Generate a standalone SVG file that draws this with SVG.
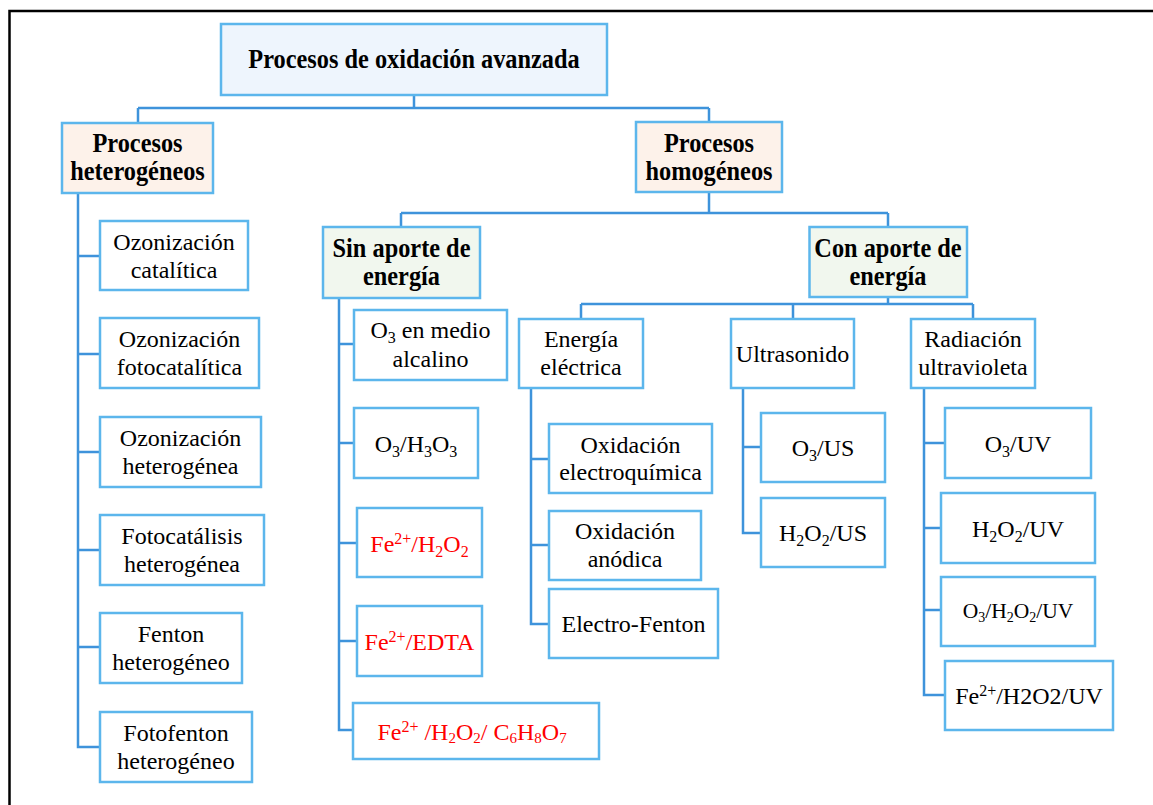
<svg xmlns="http://www.w3.org/2000/svg" width="1153" height="805" viewBox="0 0 1153 805">
<style>
.box{stroke:#5CB6EC;stroke-width:2.5;fill:#fff}
.t{fill:#EEF5FD}
.p{fill:#FDF2EA}
.g{fill:#F1F7EE}
.c{fill:none;stroke:#3E93DB;stroke-width:2.5}
text{font-family:"Liberation Serif","Times New Roman",serif;fill:#000}
.r{font-size:24px}
.b{font-size:27.5px;font-weight:bold}
.red{fill:#F00}
.s{font-size:21.5px}
</style>
<rect width="1153" height="805" fill="#fff"/>
<rect x="9.5" y="11" width="1170" height="830" fill="none" stroke="#000" stroke-width="2.5"/>
<g id="connectors">
<path class="c" d="M414,95V108M138,108H709M138,108V123M709,108V122"/>
<path class="c" d="M709,192V213M401,213H888M401,213V227M888,213V227"/>
<path class="c" d="M888,297V304M581,304H973M581,304V319M793,304V319M973,304V319"/>
<path class="c" d="M78,193V747H100M78,256H100M78,354H100M78,452H100M78,550H100M78,647H100"/>
<path class="c" d="M339,298V730H353M339,344H354M339,443H354M339,543H357M339,641H357"/>
<path class="c" d="M531,388V624H549M531,459H549M531,545H549"/>
<path class="c" d="M743,388V533H761M743,447H761"/>
<path class="c" d="M924,388V695H945M924,443H945M924,528H941M924,610H941"/>
</g>
<g id="root"><rect class="box t" x="221" y="24" width="386" height="71"/><text class="b" text-anchor="middle" transform="translate(414,68) scale(0.885,1)">Procesos de oxidación avanzada</text></g>
<g id="hetero"><rect class="box p" x="62" y="123" width="151" height="70"/><text class="b" text-anchor="middle" transform="translate(137.5,152) scale(0.885,1)">Procesos</text><text class="b" text-anchor="middle" transform="translate(137.5,180) scale(0.885,1)">heterogéneos</text></g>
<g id="homo"><rect class="box p" x="636" y="122" width="146" height="70"/><text class="b" text-anchor="middle" transform="translate(709,152) scale(0.885,1)">Procesos</text><text class="b" text-anchor="middle" transform="translate(709,180) scale(0.885,1)">homogéneos</text></g>
<g id="sin"><rect class="box g" x="323" y="227" width="157" height="71"/><text class="b" text-anchor="middle" transform="translate(401.5,257) scale(0.885,1)">Sin aporte de</text><text class="b" text-anchor="middle" transform="translate(401.5,285) scale(0.885,1)">energía</text></g>
<g id="con"><rect class="box g" x="809.5" y="227" width="157.5" height="70"/><text class="b" text-anchor="middle" transform="translate(888,257) scale(0.885,1)">Con aporte de</text><text class="b" text-anchor="middle" transform="translate(888,285) scale(0.885,1)">energía</text></g>

<g id="oz-cat"><rect class="box" x="100" y="221" width="148" height="69"/><text class="r" text-anchor="middle" x="174" y="250">Ozonización</text><text class="r" text-anchor="middle" x="174" y="278">catalítica</text></g>
<g id="oz-foto"><rect class="box" x="100" y="318" width="159" height="70"/><text class="r" text-anchor="middle" x="179.5" y="347">Ozonización</text><text class="r" text-anchor="middle" x="179.5" y="375">fotocatalítica</text></g>
<g id="oz-het"><rect class="box" x="100" y="417" width="161" height="70"/><text class="r" text-anchor="middle" x="180.5" y="446">Ozonización</text><text class="r" text-anchor="middle" x="180.5" y="474">heterogénea</text></g>
<g id="fotocat"><rect class="box" x="100" y="515" width="164" height="70"/><text class="r" text-anchor="middle" x="182" y="544">Fotocatálisis</text><text class="r" text-anchor="middle" x="182" y="572">heterogénea</text></g>
<g id="fenton"><rect class="box" x="100" y="613" width="142" height="70"/><text class="r" text-anchor="middle" x="171" y="642">Fenton</text><text class="r" text-anchor="middle" x="171" y="670">heterogéneo</text></g>
<g id="fotofenton"><rect class="box" x="100" y="712" width="152" height="70"/><text class="r" text-anchor="middle" x="176" y="741">Fotofenton</text><text class="r" text-anchor="middle" x="176" y="769">heterogéneo</text></g>

<g id="o3-alc"><rect class="box" x="354" y="310" width="153" height="70"/><text class="r" text-anchor="middle" x="430.5" y="338">O<tspan font-size="16" dy="5">3</tspan><tspan dy="-5"> en medio</tspan></text><text class="r" text-anchor="middle" x="430.5" y="367">alcalino</text></g>
<g id="o3-h3o3"><rect class="box" x="354" y="408" width="124" height="70"/><text class="r" text-anchor="middle" x="416" y="452">O<tspan font-size="16" dy="5">3</tspan><tspan dy="-5">/H</tspan><tspan font-size="16" dy="5">3</tspan><tspan dy="-5">O</tspan><tspan font-size="16" dy="5">3</tspan></text></g>
<g id="fe-h2o2"><rect class="box" x="357" y="508" width="125" height="69"/><text class="r red" text-anchor="middle" x="419.5" y="552">Fe<tspan font-size="16" dy="-8">2+</tspan><tspan dy="8">/H</tspan><tspan font-size="16" dy="5">2</tspan><tspan dy="-5">O</tspan><tspan font-size="16" dy="5">2</tspan></text></g>
<g id="fe-edta"><rect class="box" x="357" y="606" width="125" height="70"/><text class="r red" text-anchor="middle" x="419.5" y="650">Fe<tspan font-size="16" dy="-8">2+</tspan><tspan dy="8">/EDTA</tspan></text></g>
<g id="fe-citric"><rect class="box" x="353" y="703" width="246" height="56"/><text class="r red" text-anchor="middle" x="472" y="740">Fe<tspan font-size="16" dy="-8">2+</tspan><tspan dy="8"> /H</tspan><tspan font-size="15" dy="3">2</tspan><tspan dy="-3">O</tspan><tspan font-size="15" dy="3">2</tspan><tspan dy="-3">/ C</tspan><tspan font-size="15" dy="3">6</tspan><tspan dy="-3">H</tspan><tspan font-size="15" dy="3">8</tspan><tspan dy="-3">O</tspan><tspan font-size="15" dy="3">7</tspan></text></g>

<g id="energia"><rect class="box" x="519" y="319" width="124" height="69"/><text class="r" text-anchor="middle" x="581" y="347">Energía</text><text class="r" text-anchor="middle" x="581" y="375">eléctrica</text></g>
<g id="ox-electro"><rect class="box" x="549" y="424" width="163" height="69"/><text class="r" text-anchor="middle" x="630.5" y="453">Oxidación</text><text class="r" text-anchor="middle" x="630.5" y="480">electroquímica</text></g>
<g id="ox-anod"><rect class="box" x="549" y="511" width="152" height="69"/><text class="r" text-anchor="middle" x="625" y="539">Oxidación</text><text class="r" text-anchor="middle" x="625" y="567">anódica</text></g>
<g id="electro-fenton"><rect class="box" x="549" y="589" width="169" height="69"/><text class="r" text-anchor="middle" x="633.5" y="632">Electro-Fenton</text></g>

<g id="ultra"><rect class="box" x="731" y="319" width="123" height="69"/><text class="r" text-anchor="middle" x="792.5" y="362">Ultrasonido</text></g>
<g id="o3-us"><rect class="box" x="761" y="413" width="124" height="69"/><text class="r" text-anchor="middle" x="823" y="456">O<tspan font-size="16" dy="5">3</tspan><tspan dy="-5">/US</tspan></text></g>
<g id="h2o2-us"><rect class="box" x="761" y="498" width="124" height="69"/><text class="r" text-anchor="middle" x="823" y="541">H<tspan font-size="16" dy="5">2</tspan><tspan dy="-5">O</tspan><tspan font-size="16" dy="5">2</tspan><tspan dy="-5">/US</tspan></text></g>

<g id="rad"><rect class="box" x="911" y="319" width="124" height="69"/><text class="r" text-anchor="middle" x="973" y="347">Radiación</text><text class="r" text-anchor="middle" x="973" y="375">ultravioleta</text></g>
<g id="o3-uv"><rect class="box" x="945" y="408" width="146" height="70"/><text class="r" text-anchor="middle" x="1018" y="452">O<tspan font-size="16" dy="5">3</tspan><tspan dy="-5">/UV</tspan></text></g>
<g id="h2o2-uv"><rect class="box" x="941" y="493" width="154" height="70"/><text class="r" text-anchor="middle" x="1018" y="537">H<tspan font-size="16" dy="5">2</tspan><tspan dy="-5">O</tspan><tspan font-size="16" dy="5">2</tspan><tspan dy="-5">/UV</tspan></text></g>
<g id="o3-h2o2-uv"><rect class="box" x="941" y="577" width="154" height="69"/><text class="s" text-anchor="middle" x="1018" y="618">O<tspan font-size="14" dy="4">3</tspan><tspan dy="-4">/H</tspan><tspan font-size="14" dy="4">2</tspan><tspan dy="-4">O</tspan><tspan font-size="14" dy="4">2</tspan><tspan dy="-4">/UV</tspan></text></g>
<g id="fe-h2o2-uv"><rect class="box" x="945" y="661" width="168" height="69"/><text class="r" text-anchor="middle" x="1029" y="704">Fe<tspan font-size="16" dy="-8">2+</tspan><tspan dy="8">/H2O2/UV</tspan></text></g>
</svg>
